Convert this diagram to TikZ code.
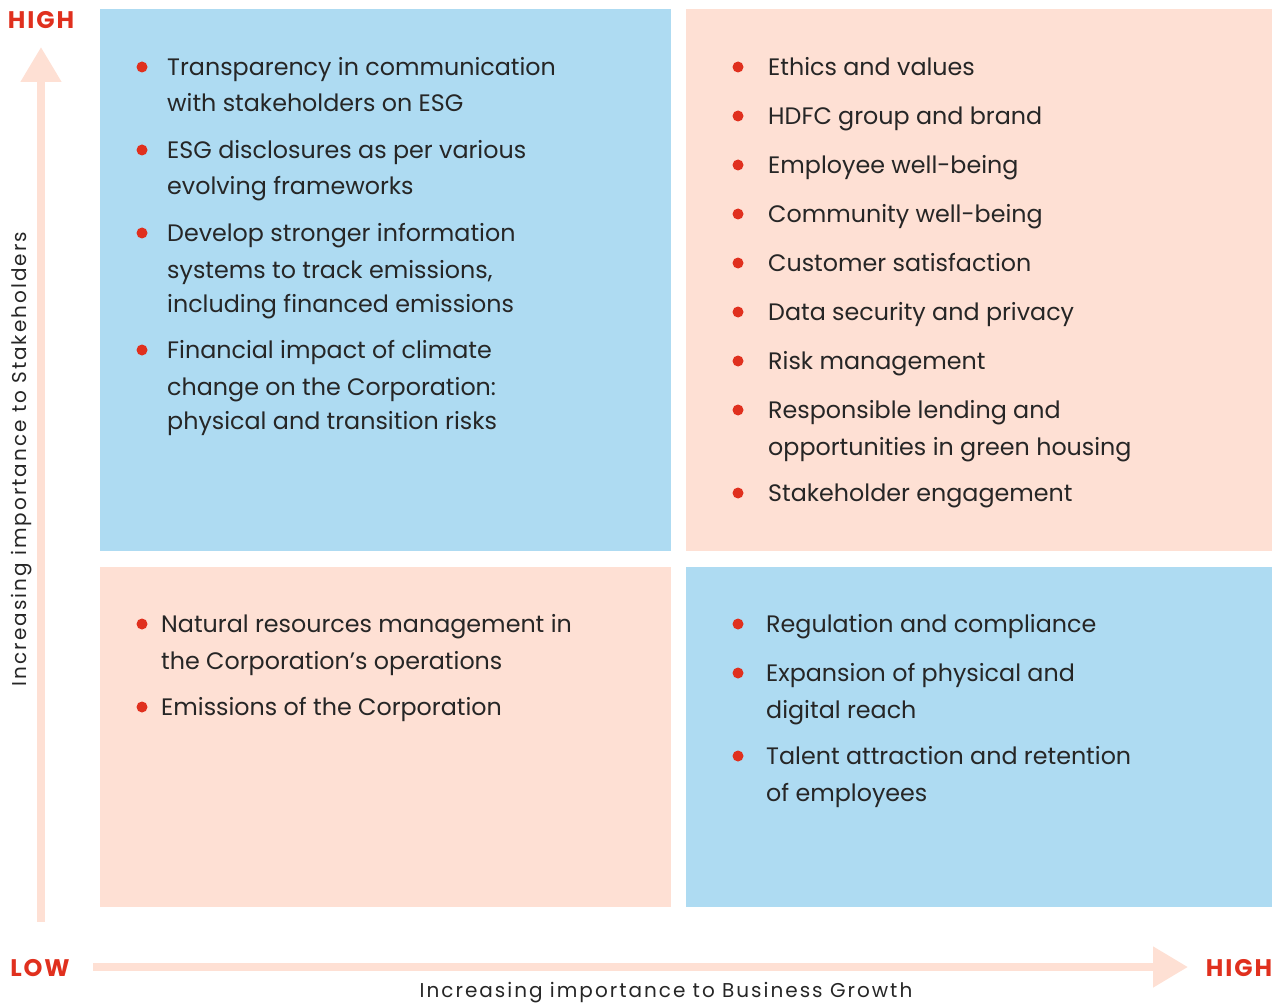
\documentclass[tikz,border=0pt]{standalone}
\usepackage{fontspec}
\setmainfont{Poppins}
\usetikzlibrary{arrows.meta}
\definecolor{qblue}{HTML}{AEDBF2}
\definecolor{qpeach}{HTML}{FEE0D4}
\definecolor{qred}{HTML}{E0301E}
\definecolor{qtext}{HTML}{262626}
\begin{document}
\begin{tikzpicture}[x=1pt,y=-1pt,
  quad/.style={anchor=north west,inner sep=0pt,outer sep=0pt},
  txt/.style={anchor=mid west,inner sep=0pt,yshift=-7pt,text=qtext,font=\fontsize{23.8}{28}\selectfont},
  dot/.style={circle,fill=qred,inner sep=0pt,minimum size=11pt},
  axlab/.style={text=qtext,inner sep=0pt,font=\fontsize{20}{24}\selectfont\addfontfeatures{LetterSpace=10}},
  lvl/.style={text=qred,inner sep=0pt,font=\fontsize{24}{28}\selectfont\bfseries\addfontfeatures{LetterSpace=8}},
  axis/.style={qpeach,line width=8pt,-{Triangle[width=39pt,length=35pt]}}]
\useasboundingbox (0,0) rectangle (1285,1003);
% quadrants
\node[quad,fill=qblue,minimum width=571pt,minimum height=542pt] (tl) at (100,9) {};
\node[quad,fill=qpeach,minimum width=586pt,minimum height=542pt] (tr) at (686,9) {};
\node[quad,fill=qpeach,minimum width=571pt,minimum height=340pt] (bl) at (100,567) {};
\node[quad,fill=qblue,minimum width=586pt,minimum height=340pt] (br) at (686,567) {};
% axes
\coordinate (vstart) at (41,922);
\coordinate (vend) at (41,47);
\coordinate (hstart) at (93,967);
\coordinate (hend) at (1188,967);
\draw[axis] (vstart) -- (vend);
\draw[axis] (hstart) -- (hend);
\node[lvl] (hightop) at (41,20) {HIGH};
\node[lvl] (low) at (40,968) {LOW};
\node[lvl] (highright) at (1239,968) {HIGH};
\node[axlab,rotate=90] (ylab) at (22,459) {Increasing importance to Stakeholders};
\node[axlab] (xlab) at (666,993) {Increasing importance to Business Growth};
% top-left
\node[dot] (d1) at (142,67) {};
\node[txt] (a1) at (167,66) {Transparency in communication};
\node[txt] (a2) at (167,102) {with stakeholders on ESG};
\node[dot] (d2) at (142,150) {};
\node[txt] (a3) at (167,149) {ESG disclosures as per various};
\node[txt] (a4) at (167,185) {evolving frameworks};
\node[dot] (d3) at (142,233) {};
\node[txt] (a5) at (167,232) {Develop stronger information};
\node[txt] (a6) at (167,269) {systems to track emissions,};
\node[txt] (a7) at (167,303) {including financed emissions};
\node[dot] (d4) at (142,350) {};
\node[txt] (a8) at (167,349) {Financial impact of climate};
\node[txt] (a9) at (167,386) {change on the Corporation:};
\node[txt] (a10) at (167,420) {physical and transition risks};
% top-right
\node[dot] (e1) at (738,67) {};
\node[txt] (b1) at (768,66) {Ethics and values};
\node[dot] (e2) at (738,116) {};
\node[txt] (b2) at (768,115) {HDFC group and brand};
\node[dot] (e3) at (738,165) {};
\node[txt] (b3) at (768,164) {Employee well-being};
\node[dot] (e4) at (738,214) {};
\node[txt] (b4) at (768,213) {Community well-being};
\node[dot] (e5) at (738,263) {};
\node[txt] (b5) at (768,262) {Customer satisfaction};
\node[dot] (e6) at (738,312) {};
\node[txt] (b6) at (768,311) {Data security and privacy};
\node[dot] (e7) at (738,361) {};
\node[txt] (b7) at (768,360) {Risk management};
\node[dot] (e8) at (738,410) {};
\node[txt] (b8) at (768,409) {Responsible lending and};
\node[txt] (b9) at (768,446) {opportunities in green housing};
\node[dot] (e9) at (738,493) {};
\node[txt] (b10) at (768,492) {Stakeholder engagement};
% bottom-left
\node[dot] (f1) at (142,624) {};
\node[txt] (c1) at (161,623) {Natural resources management in};
\node[txt] (c2) at (161,660) {the Corporation’s operations};
\node[dot] (f2) at (142,707) {};
\node[txt] (c3) at (161,706) {Emissions of the Corporation};
% bottom-right
\node[dot] (g1) at (738,624) {};
\node[txt] (h1) at (766,623) {Regulation and compliance};
\node[dot] (g2) at (738,673) {};
\node[txt] (h2) at (766,672) {Expansion of physical and};
\node[txt] (h3) at (766,709) {digital reach};
\node[dot] (g3) at (738,756) {};
\node[txt] (h4) at (766,755) {Talent attraction and retention};
\node[txt] (h5) at (766,792) {of employees};
\end{tikzpicture}
\end{document}
